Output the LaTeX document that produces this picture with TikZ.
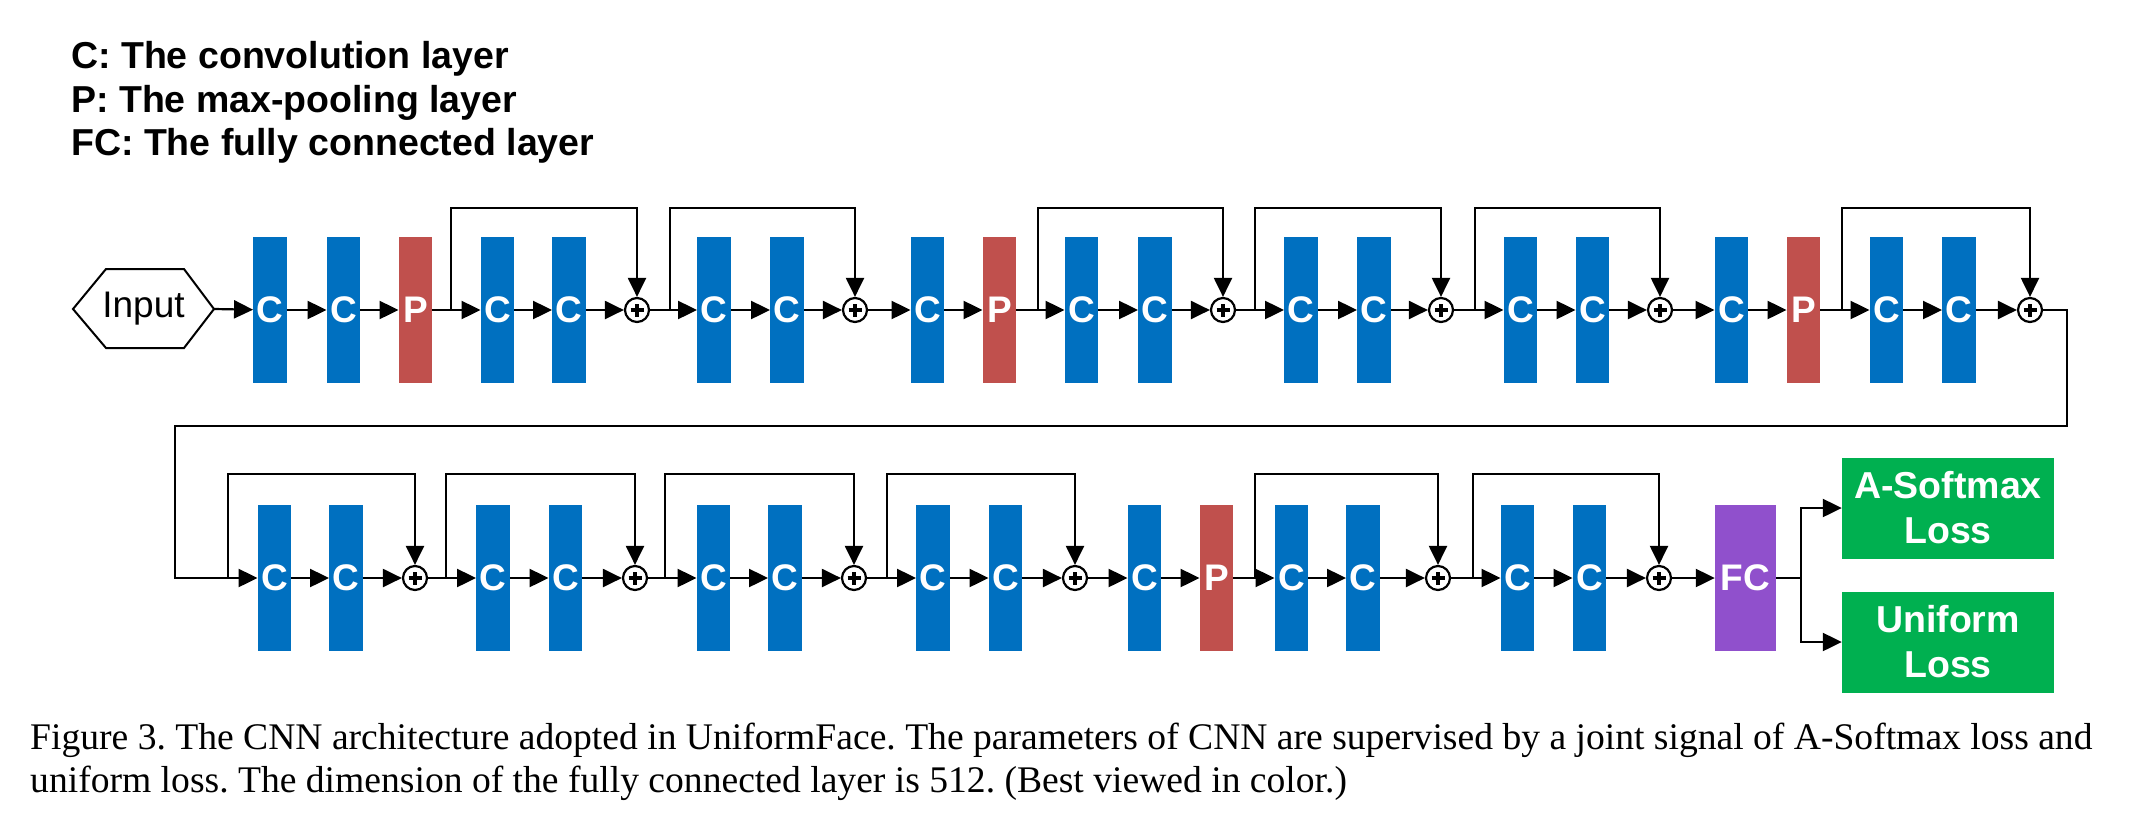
\documentclass[tikz,border=0pt]{standalone}
\usepackage{fontspec}
\setmainfont{Liberation Serif}
\newfontfamily\arial{Liberation Sans}
\usetikzlibrary{arrows.meta,shapes.geometric}
\definecolor{cblue}{RGB}{0,112,192}
\definecolor{pred}{RGB}{192,80,77}
\definecolor{fcpurple}{RGB}{144,80,204}
\definecolor{lgreen}{RGB}{0,176,80}
\tikzset{
  lay/.style={inner sep=0pt, minimum width=33.5pt, minimum height=146pt, text=white,
    font=\arial\bfseries\fontsize{37}{37}\selectfont},
  conv/.style={lay, fill=cblue},
  pool/.style={lay, fill=pred},
  fcl/.style={lay, fill=fcpurple, minimum width=61pt},
  lossbox/.style={fill=lgreen, text=white, inner sep=0pt, minimum width=212pt,
    minimum height=101pt, align=center, font=\arial\bfseries\fontsize{37.5}{45}\selectfont},
  addop/.style={circle, draw, line width=2.2pt, minimum size=24pt,
    inner sep=0pt, fill=white,
    path picture={\draw[line width=3.6pt]
      ([xshift=-6.5pt]path picture bounding box.center) -- ([xshift=6.5pt]path picture bounding box.center)
      ([yshift=-6.5pt]path picture bounding box.center) -- ([yshift=6.5pt]path picture bounding box.center);}},
  wire/.style={line width=2.2pt},
  arr/.style={wire, -{Triangle[length=19pt,width=18pt]}},
  legendtext/.style={anchor=base west, inner sep=0pt, font=\arial\bfseries\fontsize{37.5}{37.5}\selectfont},
  captext/.style={anchor=base west, inner sep=0pt, font=\fontsize{37.6}{37.6}\selectfont\frenchspacing},
}
\begin{document}
\begin{tikzpicture}[x=1pt,y=-1pt]
\useasboundingbox (0,0) rectangle (2136,828);
% legend
\node[legendtext] (leg1) at (71,68) {C: The convolution layer};
\node[legendtext] (leg2) at (71,112) {P: The max-pooling layer};
\node[legendtext] (leg3) at (71,155) {FC: The fully connected layer};
% input
\draw[line width=2pt] (73,309) -- (106,269) -- (184,269) -- (214,309) -- (184,348) -- (106,348) -- cycle;
\node[inner sep=0pt, font=\arial\fontsize{37}{37}\selectfont] (inp) at (143.5,309) {Input};
\coordinate (inR) at (214,309);
% row 1
\def\ya{310}
\node[conv] (a1) at (270,\ya) {C};
\node[conv] (a2) at (343.5,\ya) {C};
\node[pool] (a3) at (415.5,\ya) {P};
\node[conv] (a4) at (497.5,\ya) {C};
\node[conv] (a5) at (569,\ya) {C};
\node[addop] (a6) at (637,\ya) {};
\node[conv] (a7) at (714,\ya) {C};
\node[conv] (a8) at (787,\ya) {C};
\node[addop] (a9) at (855,\ya) {};
\node[conv] (a10) at (927.5,\ya) {C};
\node[pool] (a11) at (999.5,\ya) {P};
\node[conv] (a12) at (1081.5,\ya) {C};
\node[conv] (a13) at (1155,\ya) {C};
\node[addop] (a14) at (1223,\ya) {};
\node[conv] (a15) at (1301,\ya) {C};
\node[conv] (a16) at (1374,\ya) {C};
\node[addop] (a17) at (1441,\ya) {};
\node[conv] (a18) at (1520.5,\ya) {C};
\node[conv] (a19) at (1592.5,\ya) {C};
\node[addop] (a20) at (1660,\ya) {};
\node[conv] (a21) at (1731.5,\ya) {C};
\node[pool] (a22) at (1803.5,\ya) {P};
\node[conv] (a23) at (1886.5,\ya) {C};
\node[conv] (a24) at (1959,\ya) {C};
\node[addop] (a25) at (2030,\ya) {};
\draw[arr] (inR) -- (a1);
\foreach \i [evaluate=\i as \j using int(\i+1)] in {1,...,24} {\draw[arr] (a\i) -- (a\j);}
% row 1 skips
\coordinate (s1) at (451,\ya);
\coordinate (s2) at (670,\ya);
\coordinate (s3) at (1038,\ya);
\coordinate (s4) at (1255,\ya);
\coordinate (s5) at (1475,\ya);
\coordinate (s6) at (1842,\ya);
\draw[arr] (s1) -- ++(0,-102) -| (a6);
\draw[arr] (s2) -- ++(0,-102) -| (a9);
\draw[arr] (s3) -- ++(0,-102) -| (a14);
\draw[arr] (s4) -- ++(0,-102) -| (a17);
\draw[arr] (s5) -- ++(0,-102) -| (a20);
\draw[arr] (s6) -- ++(0,-102) -| (a25);
% row 2
\def\yb{578}
\node[conv] (b1) at (274.5,\yb) {C};
\node[conv] (b2) at (346,\yb) {C};
\node[addop] (b3) at (415,\yb) {};
\node[conv] (b4) at (493,\yb) {C};
\node[conv] (b5) at (565.5,\yb) {C};
\node[addop] (b6) at (635,\yb) {};
\node[conv] (b7) at (713.5,\yb) {C};
\node[conv] (b8) at (785,\yb) {C};
\node[addop] (b9) at (854,\yb) {};
\node[conv] (b10) at (933,\yb) {C};
\node[conv] (b11) at (1005.5,\yb) {C};
\node[addop] (b12) at (1075,\yb) {};
\node[conv] (b13) at (1144.5,\yb) {C};
\node[pool] (b14) at (1216.5,\yb) {P};
\node[conv] (b15) at (1291.5,\yb) {C};
\node[conv] (b16) at (1363,\yb) {C};
\node[addop] (b17) at (1438,\yb) {};
\node[conv] (b18) at (1517.5,\yb) {C};
\node[conv] (b19) at (1589.5,\yb) {C};
\node[addop] (b20) at (1659,\yb) {};
\node[fcl] (b21) at (1745.5,\yb) {FC};
\node[lossbox] (asm) at (1948,508) {A-Softmax\\Loss};
\node[lossbox] (uni) at (1948,642) {Uniform\\Loss};
\foreach \i [evaluate=\i as \j using int(\i+1)] in {1,...,20} {\draw[arr] (b\i) -- (b\j);}
% wrap
\coordinate (w1) at (2067,426);
\coordinate (w2) at (175,\yb);
\draw[arr] (a25) -| (w1) -| (w2) -- (b1);
% row 2 skips
\coordinate (t1) at (228,\yb);
\coordinate (t2) at (446,\yb);
\coordinate (t3) at (665,\yb);
\coordinate (t4) at (887,\yb);
\coordinate (t5) at (1255,\yb);
\coordinate (t6) at (1473,\yb);
\draw[arr] (t1) -- ++(0,-104) -| (b3);
\draw[arr] (t2) -- ++(0,-104) -| (b6);
\draw[arr] (t3) -- ++(0,-104) -| (b9);
\draw[arr] (t4) -- ++(0,-104) -| (b12);
\draw[arr] (t5) -- ++(0,-104) -| (b17);
\draw[arr] (t6) -- ++(0,-104) -| (b20);
% branch
\coordinate (br) at (1801,\yb);
\draw[wire] (b21) -- (br);
\draw[arr] (br) |- (asm);
\draw[arr] (br) |- (uni);
% caption
\node[captext] (cap1) at (30,749) {Figure 3. The CNN architecture adopted in UniformFace. The parameters of CNN are supervised by a joint signal of A-Softmax loss and};
\node[captext] (cap2) at (30,792) {uniform loss. The dimension of the fully connected layer is 512. (Best viewed in color.)};
\end{tikzpicture}
\end{document}
